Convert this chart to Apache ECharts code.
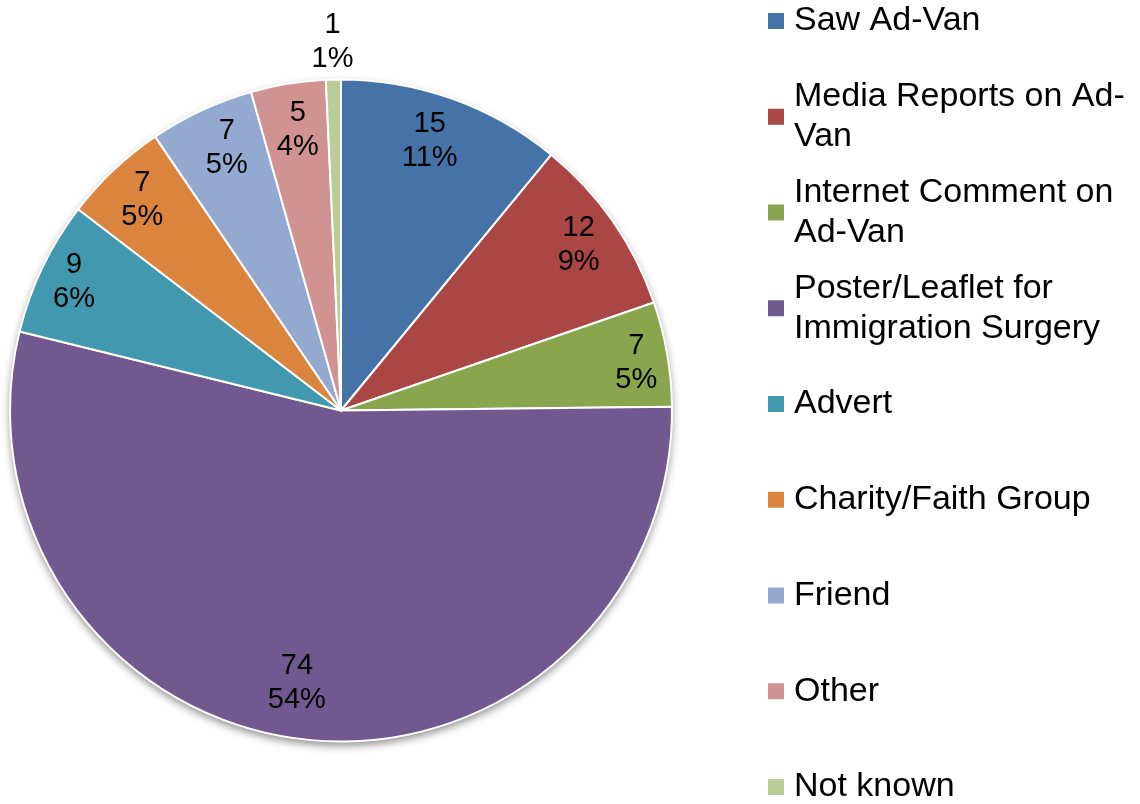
<!DOCTYPE html>
<html>
<head>
<meta charset="utf-8">
<script src="https://cdn.jsdelivr.net/npm/echarts@6/dist/echarts.min.js"></script>
<style>
  html, body { margin: 0; padding: 0; background: #fff; }
  #chart { width: 1140px; height: 804px; }
</style>
</head>
<body>
<div id="chart"></div>
<script>
// categories and counts
const categories = [
  'Saw Ad-Van',
  'Media Reports on Ad-Van',
  'Internet Comment on Ad-Van',
  'Poster/Leaflet for Immigration Surgery',
  'Advert',
  'Charity/Faith Group',
  'Friend',
  'Other',
  'Not known'
];
const counts = [15, 12, 7, 74, 9, 7, 7, 5, 1];
// legend wraps like the original
const legendLabels = [
  'Saw Ad-Van',
  'Media Reports on Ad-\nVan',
  'Internet Comment on\nAd-Van',
  'Poster/Leaflet for\nImmigration Surgery',
  'Advert',
  'Charity/Faith Group',
  'Friend',
  'Other',
  'Not known'
];
const colors = ['#4572A7', '#AA4643', '#89A54E', '#71588F', '#4198AF', '#DB843D', '#93A9CF', '#D19392', '#B9CD96'];
// slices whose label sits outside the pie
const outsideLabels = ['Not known'];

const FONT = '"Liberation Sans", Arial, sans-serif';
const CX = 341, CY = 410.5, R = 331;
const LH = 40; // legend line height

// small label nudges (excel "best fit" doesn't sit exactly on the mid angle)
const labelNudge = {
  'Saw Ad-Van': [-9, 3],
  'Internet Comment on Ad-Van': [10, 2],
  'Poster/Leaflet for Immigration Surgery': [-11, -15],
  'Advert': [-6, -3],
  'Friend': [8, 0],
  'Other': [3, 5]
};

var chart = echarts.init(document.getElementById('chart'));

const total = counts.reduce((a, b) => a + b, 0);

const pieBase = {
  type: 'pie',
  center: [CX, CY],
  startAngle: 90,
  clockwise: true,
  percentPrecision: 0,
  silent: true,
  animation: false
};

const labelStyle = {
  color: '#000',
  fontFamily: FONT,
  fontSize: 29,
  lineHeight: 34,
  formatter: '{c}\n{d}%'
};

const option = {
  backgroundColor: '#fff',
  animation: false,
  color: colors,
  legend: {
    orient: 'vertical',
    left: 768,
    top: 21 - 1.5 * LH,
    height: 1000,
    padding: 0,
    itemWidth: 16,
    itemHeight: 16,
    itemGap: 95.75 - 3 * LH,
    icon: 'rect',
    selectedMode: false,
    itemStyle: { borderWidth: 0 },
    textStyle: {
      color: '#000',
      fontFamily: FONT,
      fontSize: 34,
      lineHeight: LH,
      backgroundColor: 'transparent'
    },
    formatter: function (name) {
      return legendLabels[categories.indexOf(name)];
    },
    data: categories.map(function (n, i) {
      const twoLines = legendLabels[i].indexOf('\n') >= 0;
      return {
        name: n,
        textStyle: { padding: twoLines ? [LH, 0, 0, 5] : [LH, 0, LH, 5] }
      };
    })
  },
  series: [
    // soft drop shadow under the whole pie
    Object.assign({}, pieBase, {
      name: 'shadow',
      radius: R,
      z: 1,
      label: { show: false },
      labelLine: { show: false },
      itemStyle: {
        color: '#fff',
        shadowBlur: 8,
        shadowOffsetY: 4,
        shadowColor: 'rgba(0,0,0,0.45)'
      },
      data: [{ value: total, name: '' }]
    }),
    Object.assign({}, pieBase, {
      name: 'Source',
      radius: R,
      z: 2,
      label: { show: false },
      labelLine: { show: false },
      itemStyle: { borderColor: '#fff', borderWidth: 2 },
      data: categories.map((n, i) => ({ name: n, value: counts[i] }))
    }),
    // label ring (inside labels)
    Object.assign({}, pieBase, {
      name: 'labels',
      radius: [242, R],
      z: 3,
      itemStyle: { color: 'transparent', borderWidth: 0 },
      label: Object.assign({ show: true, position: 'inside' }, labelStyle),
      labelLine: { show: false },
      data: categories.map((n, i) => ({
        name: n,
        value: counts[i],
        label: { show: outsideLabels.indexOf(n) < 0, offset: labelNudge[n] || [0, 0] }
      }))
    }),
    // label ring (outside labels)
    Object.assign({}, pieBase, {
      name: 'outerLabels',
      radius: [346, 386],
      z: 3,
      itemStyle: { color: 'transparent', borderWidth: 0 },
      label: Object.assign({ show: true, position: 'inside' }, labelStyle),
      labelLine: { show: false },
      data: categories.map((n, i) => ({
        name: n,
        value: counts[i],
        label: { show: outsideLabels.indexOf(n) >= 0 }
      }))
    })
  ]
};

chart.setOption(option);
</script>
</body>
</html>
